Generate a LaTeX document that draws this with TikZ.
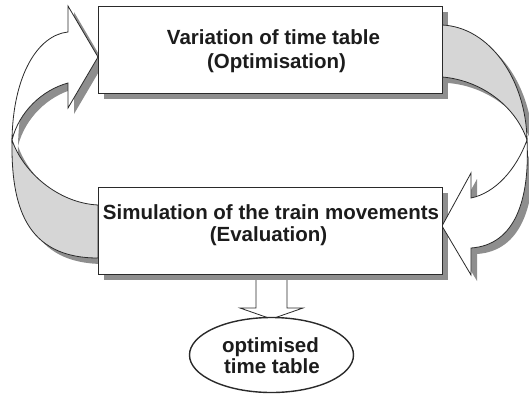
\documentclass[tikz,border=0pt]{standalone}
\usepackage{fontspec}
\setmainfont{Liberation Sans}
\usetikzlibrary{shapes.geometric}
\definecolor{edge}{HTML}{2A2A2A}
\definecolor{dropgray}{HTML}{8E8E8E}
\definecolor{face}{HTML}{D6D6D6}
\definecolor{ink}{HTML}{1C1C1C}
\begin{document}
\begin{tikzpicture}[x=1pt,y=-1pt,line join=miter,
  outline/.style={draw=edge,line width=0.8pt},
  boxstyle/.style={outline,fill=white,rectangle,inner sep=0pt,anchor=north west},
  dropfill/.style={fill=dropgray,draw=none},
  label/.style={font=\bfseries\fontsize{20.5}{23.5}\selectfont,text=ink,inner sep=0pt,anchor=base}]
\useasboundingbox (0,0) rectangle (529,394);

% curved arrow on the left: white front face (with head) and grey back face
\def\leftfront{(12,140) .. controls (13,75) and (38,35) .. (68,32) -- (68,6) -- (98,57)
  -- (68,108) -- (68,83) .. controls (42,90) and (19,112) .. (12,140) -- cycle}
\def\leftback{(12,140) .. controls (11,205) and (25,258) .. (98,258) -- (98,205)
  .. controls (58,203) and (23,172) .. (12,140) -- cycle}
% curved arrow on the right: grey back face and white front face (with head)
\def\rightback{(442,25) .. controls (490,27) and (526,80) .. (527,140)
  .. controls (515,105) and (480,80) .. (442,77) -- cycle}
\def\rightfront{(527,140) .. controls (530,200) and (515,245) .. (471,248) -- (471,275)
  -- (442,226) -- (471,173) -- (471,198) .. controls (495,193) and (516,170) .. (527,140) -- cycle}

% downward block arrow to the result
\draw[outline,fill=white] (256,276) -- (256,308) -- (240,308) -- (271.5,319)
  -- (303,308) -- (287,308) -- (287,276);

% drop shadows
\path[dropfill] (104,12) rectangle (448,99);
\path[dropfill] (104,193) rectangle (448,280);
\begin{scope}[shift={(6,6)}]
  \path[dropfill] \leftfront;
  \path[dropfill] \leftback;
  \path[dropfill] \rightback;
  \path[dropfill] \rightfront;
\end{scope}

% arrow faces
\path[outline,fill=face] \leftback;
\path[outline,fill=white] \leftfront;
\path[outline,fill=face] \rightback;
\path[outline,fill=white] \rightfront;

% the two process boxes
\node[boxstyle,minimum width=344pt,minimum height=87pt] (opt) at (98,6) {};
\node[boxstyle,minimum width=344pt,minimum height=87pt] (sim) at (98,187) {};

\node[label] (optA) at (273.5,44) {Variation of time table};
\node[label] (optB) at (276.5,68) {(Optimisation)};
\node[label] (simA) at (271,219) {Simulation of the train movements};
\node[label] (simB) at (268.5,241) {(Evaluation)};

% result
\node[ellipse,draw=edge,line width=1.4pt,fill=white,minimum width=164pt,minimum height=75pt,inner sep=0pt] (res) at (271.5,355) {};
\node[label] (resA) at (270.5,352) {optimised};
\node[label] (resB) at (272,373) {time table};
\end{tikzpicture}
\end{document}
